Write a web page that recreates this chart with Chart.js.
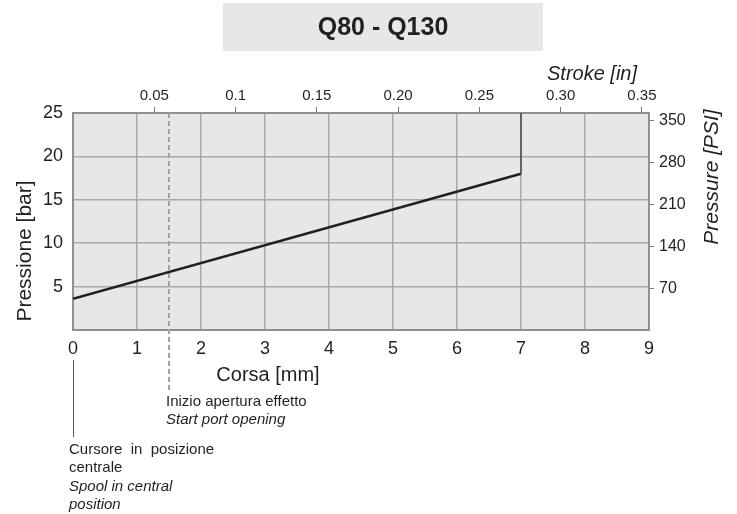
<!DOCTYPE html>
<html>
<head>
<meta charset="utf-8">
<script src="https://cdn.jsdelivr.net/npm/chart.js@4/dist/chart.umd.min.js"></script>
<style>
  html, body { margin: 0; padding: 0; background: #fff; }
  canvas { display: block; }
</style>
</head>
<body>
<canvas id="chart" width="737" height="514"></canvas>
<script>
// Pressure curve
const strokeMm = [0, 7, 7];
const pressureBar = [3.6, 18, 25];

// tick labels
const inchTicks = [0.05, 0.1, 0.15, 0.2, 0.25, 0.3, 0.35];
const inchLabels = ["0.05", "0.1", "0.15", "0.20", "0.25", "0.30", "0.35"];
const psiTicks = [70, 140, 210, 280, 350];

const startOpeningMm = 1.5;
const MM_PER_IN = 25.4;
const PSI_PER_BAR = 14.5038;

const FONT = "'Liberation Sans', Arial, sans-serif";
const INK = "#231f20";
const GRID = "#a7a9ab";
const FRAME = "#8e9093";

// Background, title box and notes
const decorations = {
  id: "decorations",
  beforeDraw(chart) {
    const { ctx, chartArea: a } = chart;
    ctx.save();
    ctx.fillStyle = "#e6e7e8";
    ctx.fillRect(a.left, a.top, a.right - a.left, a.bottom - a.top);
    // title box
    ctx.fillRect(223, 3, 320, 48);
    ctx.fillStyle = INK;
    ctx.font = "bold 25px " + FONT;
    ctx.textAlign = "center";
    ctx.textBaseline = "middle";
    ctx.fillText("Q80 - Q130", 383, 28);
    ctx.restore();
  },
  beforeDatasetsDraw(chart) {
    const { ctx, chartArea: a } = chart;
    const x = chart.scales.x.getPixelForValue(startOpeningMm);
    ctx.save();
    ctx.strokeStyle = "#a0a2a5";
    ctx.lineWidth = 2;
    ctx.setLineDash([5, 3]);
    ctx.beginPath();
    ctx.moveTo(x, a.top);
    ctx.lineTo(x, 392);
    ctx.stroke();
    ctx.restore();
  },
  afterDraw(chart) {
    const { ctx, chartArea: a } = chart;
    const x0 = chart.scales.x.getPixelForValue(0);
    ctx.save();
    ctx.fillStyle = INK;

    // axis titles
    ctx.font = "20px " + FONT;
    ctx.textAlign = "center";
    ctx.textBaseline = "alphabetic";
    ctx.fillText("Corsa [mm]", 268, 381);

    ctx.font = "italic 20px " + FONT;
    ctx.fillText("Stroke [in]", 592, 80);

    ctx.save();
    ctx.translate(31, 251);
    ctx.rotate(-Math.PI / 2);
    ctx.font = "21px " + FONT;
    ctx.fillText("Pressione [bar]", 0, 0);
    ctx.restore();

    ctx.save();
    ctx.translate(718, 177);
    ctx.rotate(-Math.PI / 2);
    ctx.font = "italic 21px " + FONT;
    ctx.fillText("Pressure [PSI]", 0, 0);
    ctx.restore();

    // lead line for central position
    ctx.strokeStyle = "#555";
    ctx.lineWidth = 1;
    ctx.beginPath();
    ctx.moveTo(x0 + 0.5, 360);
    ctx.lineTo(x0 + 0.5, 437);
    ctx.stroke();

    // notes
    ctx.textAlign = "left";
    ctx.font = "15px " + FONT;
    ctx.fillText("Inizio apertura effetto", 166, 406);
    ctx.font = "italic 15px " + FONT;
    ctx.fillText("Start port opening", 166, 424);

    ctx.font = "15px " + FONT;
    ctx.fillText("Cursore  in  posizione", 69, 454);
    ctx.fillText("centrale", 69, 472);
    ctx.font = "italic 15px " + FONT;
    ctx.fillText("Spool in central", 69, 491);
    ctx.fillText("position", 69, 509);
    ctx.restore();
  }
};

new Chart(document.getElementById("chart"), {
  type: "line",
  data: {
    datasets: [{
      data: strokeMm.map((x, i) => ({ x, y: pressureBar[i] })),
      borderColor: INK,
      borderWidth: 2.5,
      pointRadius: 0,
      tension: 0,
      segment: {
        borderWidth: (c) => (c.p0.parsed.x === c.p1.parsed.x ? 1.5 : 2.5),
        borderColor: (c) => (c.p0.parsed.x === c.p1.parsed.x ? "#4a4a4a" : INK)
      }
    }]
  },
  plugins: [decorations],
  options: {
    responsive: false,
    animation: false,
    devicePixelRatio: 1,
    layout: { padding: 0 },
    plugins: { legend: { display: false }, tooltip: { enabled: false } },
    scales: {
      x: {
        type: "linear",
        position: "bottom",
        min: 0,
        max: 9,
        ticks: { stepSize: 1, color: INK, font: { family: FONT, size: 18 }, padding: 8 },
        grid: { color: GRID, lineWidth: 1.5, drawTicks: false },
        border: { color: FRAME, width: 2 },
        afterFit: (s) => { s.height = 184; }
      },
      y: {
        position: "left",
        min: 0,
        max: 25,
        ticks: {
          stepSize: 5,
          color: INK,
          font: { family: FONT, size: 18 },
          padding: 10,
          callback: (v) => (v === 0 ? null : v)
        },
        grid: { color: GRID, lineWidth: 1.5, drawTicks: false },
        border: { color: FRAME, width: 2 },
        afterFit: (s) => { s.width = 73; }
      },
      x2: {
        type: "linear",
        position: "top",
        min: 0,
        max: 9 / MM_PER_IN,
        afterBuildTicks: (s) => { s.ticks = inchTicks.map((value) => ({ value })); },
        ticks: {
          color: INK,
          font: { family: FONT, size: 15 },
          padding: 2,
          autoSkip: false,
          maxRotation: 0,
          callback: (v, i) => inchLabels[i]
        },
        grid: { drawOnChartArea: false, color: "#777", tickLength: 6 },
        border: { color: FRAME, width: 2 },
        afterFit: (s) => { s.height = 113; }
      },
      y2: {
        position: "right",
        min: 0,
        max: 25 * PSI_PER_BAR,
        afterBuildTicks: (s) => { s.ticks = psiTicks.map((value) => ({ value })); },
        ticks: { color: INK, font: { family: FONT, size: 16 }, padding: 5, autoSkip: false },
        grid: { drawOnChartArea: false, color: "#777", tickLength: 5 },
        border: { color: FRAME, width: 2 },
        afterFit: (s) => { s.width = 88; }
      }
    }
  }
});
</script>
</body>
</html>
